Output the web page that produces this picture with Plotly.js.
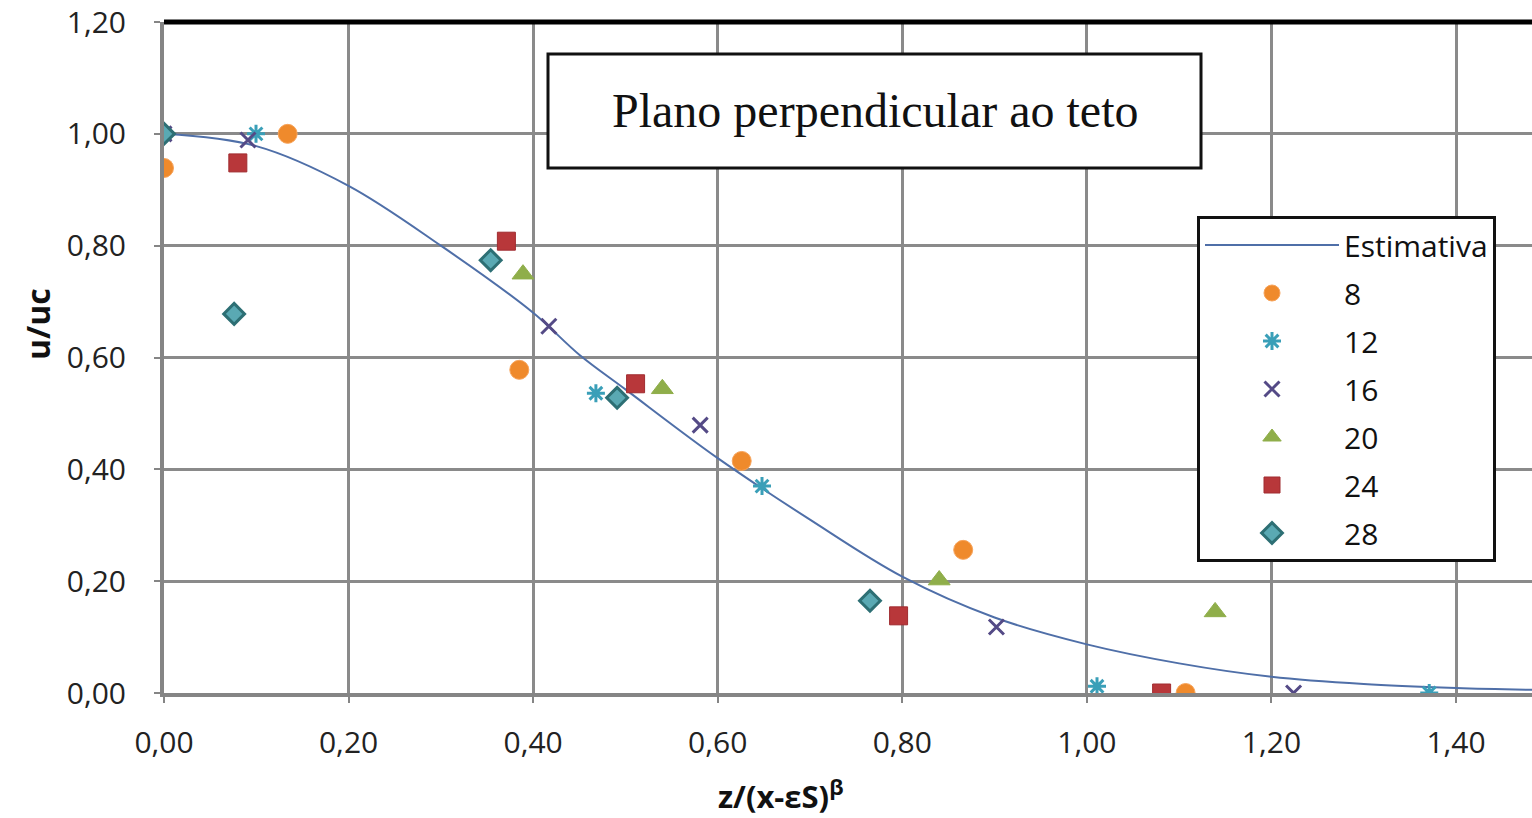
<!DOCTYPE html>
<html>
<head>
<meta charset="utf-8">
<script src="https://cdn.plot.ly/plotly-3.0.1.min.js"></script>
<style>html,body{margin:0;padding:0;background:#fff;}#chart{width:1532px;height:818px;}</style>
</head>
<body>
<div id="chart"></div>
<script>
// Curve "Estimativa"
const estX = [0, 0.1, 0.2, 0.3, 0.4, 0.45, 0.5, 0.6, 0.7, 0.8, 0.9, 1.0, 1.1, 1.2, 1.3, 1.4, 1.5];
const estY = [1.0, 0.978, 0.907, 0.80, 0.68, 0.605, 0.543, 0.42, 0.31, 0.208, 0.135, 0.087, 0.053, 0.029, 0.016, 0.009, 0.005];

const s8x = [0, 0.134, 0.385, 0.626, 0.866, 1.107];
const s8y = [0.939, 1.0, 0.578, 0.415, 0.256, 0.0];

const s12x = [0, 0.0997, 0.468, 0.648, 1.011, 1.371];
const s12y = [1.0, 1.0, 0.536, 0.370, 0.012, 0.0];

const s16x = [0, 0.091, 0.417, 0.581, 0.902, 1.224];
const s16y = [1.0, 0.989, 0.656, 0.479, 0.118, 0.0];

const s20x = [0.389, 0.540, 0.840, 1.139];
const s20y = [0.749, 0.544, 0.202, 0.145];

const s24x = [0.080, 0.371, 0.511, 0.796, 1.081];
const s24y = [0.948, 0.808, 0.553, 0.138, 0.0];

const s28x = [0, 0.076, 0.354, 0.491, 0.765];
const s28y = [1.0, 0.678, 0.774, 0.528, 0.165];

const seriesNames = ['Estimativa', '8', '12', '16', '20', '24', '28'];
const yTicks = [0, 0.2, 0.4, 0.6, 0.8, 1.0, 1.2];
const xTicks = [0, 0.2, 0.4, 0.6, 0.8, 1.0, 1.2, 1.4];

const chartTitle = 'Plano perpendicular ao teto';
const xTitle = 'z/(x-εS)<sup>β</sup>';
const yTitle = 'u/uc';

const traces = [
  {x: estX, y: estY, name: seriesNames[0], mode: 'lines', legendgroup: 'g0',
   line: {color: '#4f6fa8', width: 2, shape: 'spline', smoothing: 1}},
  {x: s8x, y: s8y, name: seriesNames[1], mode: 'markers', legendgroup: 'g1',
   marker: {symbol: 'circle', size: 19, color: '#ef8a2c', line: {color: '#f7a35a', width: 1}}},
  {x: s12x, y: s12y, name: seriesNames[2], mode: 'markers', legendgroup: 'g2',
   marker: {symbol: 'asterisk-open', size: 15, color: '#3a9fb8', line: {color: '#3a9fb8', width: 3}}},
  {x: s16x, y: s16y, name: seriesNames[3], mode: 'markers', legendgroup: 'g3',
   marker: {symbol: 'x-thin-open', size: 15, color: '#544a86', line: {color: '#544a86', width: 3}}},
  {x: s20x, y: s20y, name: seriesNames[4], mode: 'markers', legendgroup: 'g4',
   marker: {symbol: 'triangle-up', size: 19, color: '#8fae4a', line: {color: '#8fae4a', width: 1}}},
  {x: s24x, y: s24y, name: seriesNames[5], mode: 'markers', legendgroup: 'g5',
   marker: {symbol: 'square', size: 18, color: '#b8373a', line: {color: '#a02c30', width: 1}}},
  {x: s28x, y: s28y, name: seriesNames[6], mode: 'markers', legendgroup: 'g6',
   marker: {symbol: 'diamond', size: 16, color: '#5aa9b3', line: {color: '#2d6f74', width: 3}}}
];

const L = 164, T = 22, W = 1532, H = 818, B = 125;
const plotW = W - L, plotH = H - T - B;
const xMax = 1.4 * plotW / (1456 - 164);

const tickFont = {family: 'Open Sans, Noto Sans, sans-serif', size: 30, color: '#222'};

const layout = {
  width: W, height: H,
  margin: {l: L, r: 0, t: T, b: B, pad: 0},
  paper_bgcolor: '#fff', plot_bgcolor: '#fff',
  separators: ',.',
  showlegend: true,
  xaxis: {
    range: [0, xMax], tickvals: xTicks, tickformat: '.2f',
    showgrid: true, gridcolor: '#8a8a8a', gridwidth: 3,
    zeroline: false, showline: true, linecolor: '#858585', linewidth: 4,
    ticks: 'outside', ticklen: 6, tickcolor: '#858585', tickwidth: 2,
    tickfont: tickFont, ticklabelstandoff: 14
  },
  yaxis: {
    range: [0, 1.2], tickvals: yTicks, tickformat: '.2f',
    showgrid: true, gridcolor: '#8a8a8a', gridwidth: 3,
    zeroline: false, showline: true, linecolor: '#858585', linewidth: 4,
    ticks: 'outside', ticklen: 6, tickcolor: '#858585', tickwidth: 2,
    tickfont: tickFont, ticklabelstandoff: 22
  },
  legend: {
    x: (1197 - L) / plotW, y: (693 - 216) / plotH, xanchor: 'left', yanchor: 'top',
    bgcolor: '#fff', bordercolor: '#111', borderwidth: 3,
    font: {family: 'Open Sans, Noto Sans, sans-serif', size: 30, color: '#111'},
    traceorder: 'grouped', tracegroupgap: 6, itemwidth: 134
  },
  shapes: [
    {type: 'line', xref: 'paper', yref: 'paper', x0: 0, x1: 1, y0: 1, y1: 1,
     line: {color: '#000', width: 5}},
    {type: 'rect', xref: 'paper', yref: 'paper',
     x0: (548 - L) / plotW, x1: (1201 - L) / plotW,
     y0: (693 - 168) / plotH, y1: (693 - 54) / plotH,
     fillcolor: '#fff', line: {color: '#111', width: 3}, layer: 'above'}
  ],
  annotations: [
    {text: chartTitle, xref: 'paper', yref: 'paper', showarrow: false,
     x: (875 - L) / plotW, y: (693 - 110) / plotH, xanchor: 'center', yanchor: 'middle',
     font: {family: 'Liberation Serif, Times New Roman, serif', size: 48, color: '#111'}},
    {text: '<b>' + xTitle + '</b>', xref: 'paper', yref: 'paper', showarrow: false,
     x: (780 - L) / plotW, y: (693 - 794) / plotH, xanchor: 'center', yanchor: 'middle',
     font: {family: 'Open Sans, Noto Sans, sans-serif', size: 31, color: '#111'}},
    {text: '<b>' + yTitle + '</b>', xref: 'paper', yref: 'paper', showarrow: false, textangle: -90,
     x: (37 - L) / plotW, y: (693 - 324) / plotH, xanchor: 'center', yanchor: 'middle',
     font: {family: 'Open Sans, Noto Sans, sans-serif', size: 32, color: '#111'}}
  ]
};

Plotly.newPlot('chart', traces, layout, {displayModeBar: false, staticPlot: true});
</script>
</body>
</html>
